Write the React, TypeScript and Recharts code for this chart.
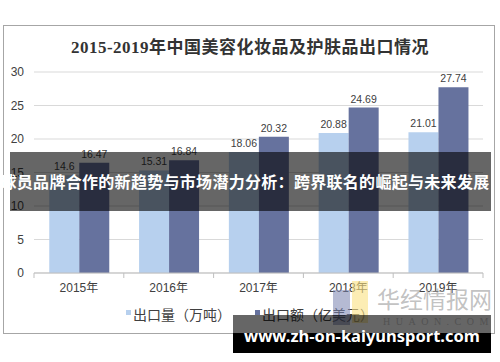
import React from 'react';
import { BarChart, Bar, XAxis, YAxis, CartesianGrid, LabelList, Legend } from 'recharts';

const years = ['2015年', '2016年', '2017年', '2018年', '2019年'];
const exportVolume = [14.6, 15.31, 18.06, 20.88, 21.01];
const exportValue = [16.47, 16.84, 20.32, 24.69, 27.74];
const yTicks = [0, 5, 10, 15, 20, 25, 30];
const seriesNames = ['出口量（万吨）', '出口额（亿美元）'];
const seriesColors = ['#B7D0EE', '#66729E'];
const titleText = '2015-2019年中国美容化妆品及护肤品出口情况';
const bannerText = '球员品牌合作的新趋势与市场潜力分析：跨界联名的崛起与未来发展';
const urlText = 'www.zh-on-kaiyunsport.com';

const data = years.map((y, i) => ({ year: y, volume: exportVolume[i], value: exportValue[i] }));

const SANS = "'Liberation Sans', 'Noto Sans CJK SC', sans-serif";
const CJK = "'Noto Sans CJK SC', sans-serif";

const XTick = (props: any) => {
  const { x, y, payload, index, visibleTicksCount } = props;
  const half = payload && typeof payload.offset === 'number' ? payload.offset : 44.9;
  return (
    <g>
      <line x1={x - half} x2={x - half} y1={y} y2={y + 5} stroke="#BFBFBF" />
      {index === visibleTicksCount - 1 && (
        <line x1={x + half} x2={x + half} y1={y} y2={y + 5} stroke="#BFBFBF" />
      )}
      <text x={x} y={y + 10} dy="0.71em" textAnchor="middle" fill="#404040" fontSize={12} fontFamily={SANS}>
        {payload.value}
      </text>
    </g>
  );
};

const LegendContent = () => (
  <div style={{ display: 'flex', justifyContent: 'center', alignItems: 'center', fontFamily: CJK, fontSize: 14, color: '#404040', lineHeight: '18px' }}>
    {seriesNames.map((n, i) => (
      <div key={n} style={{ display: 'flex', alignItems: 'center', marginRight: i === 0 ? 24 : 0 }}>
        <span style={{ display: 'inline-block', width: 5, height: 5, background: seriesColors[i], marginRight: 2, marginTop: -3 }} />
        <span>{n}</span>
      </div>
    ))}
  </div>
);

export default function App() {
  return (
    <div style={{ position: 'fixed', left: 0, top: 0, width: 500, height: 362, background: '#fff', overflow: 'hidden' }}>
      <div style={{ position: 'absolute', left: 3, top: 25, width: 490, height: 307, border: '1px solid #A6A6A6' }} />
      <div style={{ position: 'absolute', left: 0, top: 35, width: 500, textAlign: 'center', fontFamily: "'Liberation Serif', 'Noto Sans CJK SC', serif", fontWeight: 700, fontSize: 17, letterSpacing: 0.5, color: '#333', lineHeight: '26px' }}>
        {titleText}
      </div>
      <div style={{ position: 'absolute', left: 0, top: 0 }}>
        <BarChart width={500} height={362} data={data} margin={{ top: 72, right: 17, left: 0, bottom: 59 }} barCategoryGap="17%" barGap={0}>
          <CartesianGrid vertical={false} stroke="#D9D9D9" />
          <XAxis dataKey="year" height={30} axisLine={{ stroke: '#BFBFBF' }} tickLine={false} tickSize={0} tickMargin={0} tick={XTick} interval={0} />
          <YAxis width={34} domain={[0, 30]} ticks={yTicks} axisLine={false} tickLine={false} tickMargin={4} tick={{ fill: '#404040', fontSize: 12, fontFamily: SANS }} />
          <Legend layout="horizontal" verticalAlign="middle" align="center" wrapperStyle={{ top: 305, left: 0, width: 500 }} content={LegendContent} />
          <Bar dataKey="volume" name={seriesNames[0]} fill={seriesColors[0]} isAnimationActive={false}>
            <LabelList dataKey="volume" position="top" offset={5} fill="#404040" fontSize={10.5} fontFamily={SANS} />
          </Bar>
          <Bar dataKey="value" name={seriesNames[1]} fill={seriesColors[1]} isAnimationActive={false}>
            <LabelList dataKey="value" position="top" offset={5} fill="#404040" fontSize={10.5} fontFamily={SANS} />
          </Bar>
        </BarChart>
      </div>
      {/* banner overlay */}
      <div style={{ position: 'absolute', left: 10, top: 152, width: 481, height: 59, background: 'rgba(0,0,0,0.6)' }} />
      <div style={{ position: 'absolute', left: 0, top: 170, width: 490, textAlign: 'center', whiteSpace: 'nowrap', fontFamily: CJK, fontWeight: 700, fontSize: 16, letterSpacing: 0.3, color: '#fff', lineHeight: '22px' }}>
        {bannerText}
      </div>
      {/* watermark logo */}
      <div style={{ position: 'absolute', left: 333, top: 290, width: 17, height: 35, background: 'rgba(120,130,175,0.55)' }} />
      <div style={{ position: 'absolute', left: 352, top: 281, width: 16, height: 42, background: 'rgba(250,225,130,0.6)' }} />
      <div style={{ position: 'absolute', left: 377, top: 282, whiteSpace: 'nowrap', fontFamily: "'Noto Sans CJK SC', serif", fontSize: 23, letterSpacing: 0, color: 'rgba(160,160,160,0.65)', lineHeight: '32px' }}>
        华经情报网
      </div>
      <div style={{ position: 'absolute', left: 383, top: 315, whiteSpace: 'nowrap', fontFamily: "'Liberation Serif', serif", fontSize: 10, letterSpacing: 5.5, color: 'rgba(190,190,190,0.8)', lineHeight: '14px' }}>
        HUAON.COM
      </div>
      {/* url box */}
      <div style={{ position: 'absolute', left: 233, top: 315, width: 258, height: 18, background: 'rgba(0,0,0,0.6)' }} />
      <div style={{ position: 'absolute', left: 233, top: 333, width: 258, height: 20, background: '#000' }} />
      <div style={{ position: 'absolute', left: 233, top: 325, width: 258, textAlign: 'center', whiteSpace: 'nowrap', fontFamily: "'Noto Sans', sans-serif", fontWeight: 700, fontSize: 16.5, color: '#fff', lineHeight: '22px' }}>
        {urlText}
      </div>
    </div>
  );
}
